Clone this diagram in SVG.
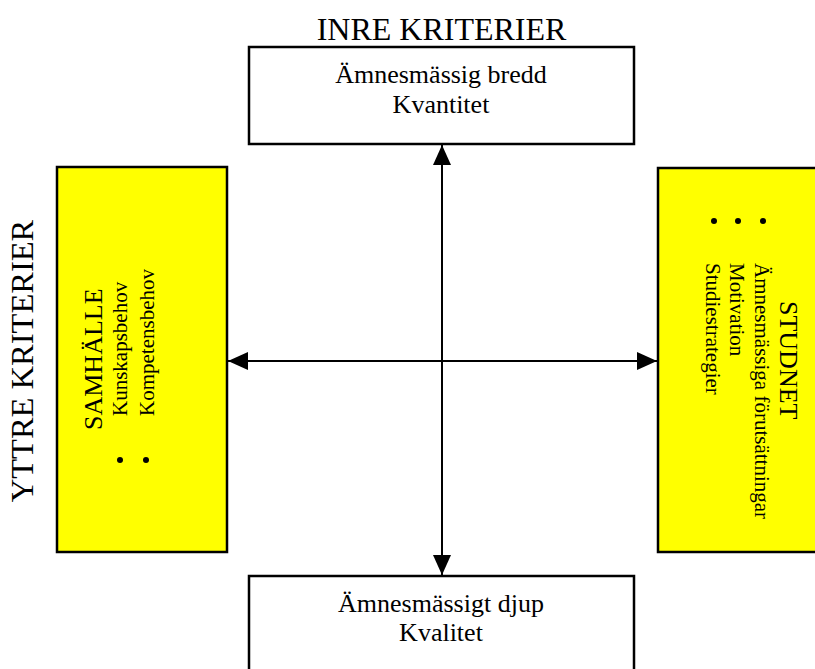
<svg xmlns="http://www.w3.org/2000/svg" width="815" height="669" viewBox="0 0 815 669">
<style>
text{font-family:"Liberation Serif","Times New Roman",serif;fill:#000}
.box{fill:#fff;stroke:#000;stroke-width:2.5}
.ybox{fill:#ffff00;stroke:#000;stroke-width:2.5}
.line{stroke:#000;stroke-width:2;fill:none}
.big{font-size:32px}
.t26{font-size:26px}
.t21{font-size:21px}
</style>
<defs>
<marker id="arr" viewBox="0 0 20 18" refX="20" refY="9" markerWidth="20" markerHeight="18" orient="auto-start-reverse" markerUnits="userSpaceOnUse">
<path d="M0,0 L20,9 L0,18 z" fill="#000"/>
</marker>
</defs>
<text class="big" x="441.5" y="40" text-anchor="middle">INRE KRITERIER</text>
<text class="big" text-anchor="middle" transform="translate(33,361) rotate(-90)" style="font-size:32.5px">YTTRE KRITERIER</text>
<g id="top">
<rect class="box" x="249" y="47" width="385" height="97"/>
<text class="t26" x="441" y="83" text-anchor="middle">Ämnesmässig bredd</text>
<text class="t26" x="441" y="113" text-anchor="middle">Kvantitet</text>
</g>
<g id="bottom">
<rect class="box" x="249" y="576" width="385" height="110"/>
<text class="t26" x="441" y="612" text-anchor="middle">Ämnesmässigt djup</text>
<text class="t26" x="441" y="641" text-anchor="middle">Kvalitet</text>
</g>
<g id="samhalle">
<rect class="ybox" x="57" y="167" width="170" height="385"/>
<text class="t26" transform="translate(102,430) rotate(-90)">SAMHÄLLE</text>
<text class="t21" transform="translate(127,416) rotate(-90)">Kunskapsbehov</text>
<text class="t21" transform="translate(154,416) rotate(-90)">Kompetensbehov</text>
<circle cx="120" cy="460" r="3"/>
<circle cx="146" cy="460" r="3"/>
</g>
<g id="studnet">
<rect class="ybox" x="658" y="168" width="170" height="384"/>
<text class="t26" transform="translate(780,301) rotate(90)">STUDNET</text>
<text class="t21" transform="translate(755,263) rotate(90)">Ämnesmässiga förutsättningar</text>
<text class="t21" transform="translate(730,263) rotate(90)">Motivation</text>
<text class="t21" transform="translate(706,263) rotate(90)">Studiestrategier</text>
<circle cx="714" cy="221" r="3"/>
<circle cx="738" cy="221" r="3"/>
<circle cx="763" cy="221" r="3"/>
</g>
<g id="connectors">
<line class="line" x1="442" y1="145" x2="442" y2="575" marker-start="url(#arr)" marker-end="url(#arr)"/>
<line class="line" x1="228" y1="361" x2="657" y2="361" marker-start="url(#arr)" marker-end="url(#arr)"/>
</g>
</svg>
